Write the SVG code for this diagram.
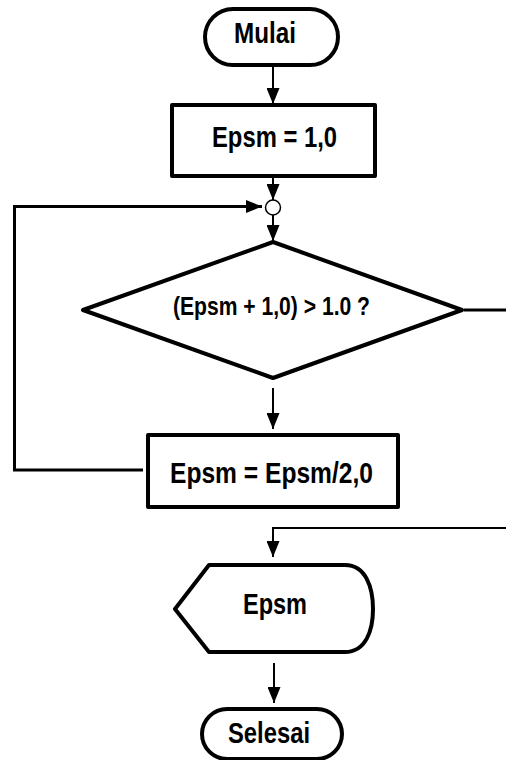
<svg xmlns="http://www.w3.org/2000/svg" width="506" height="760" viewBox="0 0 506 760">
  <defs>
    <marker id="arrow" markerUnits="userSpaceOnUse" markerWidth="16" markerHeight="13" refX="16" refY="6.5" orient="auto">
      <path d="M0,0 L16,6.5 L0,13 Z" fill="#000"/>
    </marker>
  </defs>
  <style>
    .shape { fill: #fff; stroke: #000; stroke-width: 4; stroke-linejoin: round; }
    .label { font-family: "Liberation Sans Narrow", "Liberation Sans", Arial, sans-serif; font-weight: bold; font-size: 29px; fill: #000; }
    .thin { fill: none; stroke: #000; stroke-width: 2; }
    .thick { fill: none; stroke: #000; stroke-width: 3; }
  </style>
  <rect width="506" height="760" fill="#fff"/>

  <g id="connectors">
    <line class="thin" x1="273" y1="66" x2="273" y2="104" marker-end="url(#arrow)"/>
    <line class="thin" x1="273" y1="177" x2="273" y2="200" marker-end="url(#arrow)"/>
    <line class="thin" x1="273" y1="215" x2="273" y2="241" marker-end="url(#arrow)"/>
    <line class="thin" x1="273" y1="388" x2="273" y2="429" marker-end="url(#arrow)"/>
    <polyline class="thick" points="143,470 14.5,470 14.5,206.5 262,206.5" marker-end="url(#arrow)"/>
    <line class="thick" x1="464" y1="310" x2="506" y2="310"/>
    <polyline class="thin" points="506,528 273,528 273,557" marker-end="url(#arrow)"/>
    <line class="thin" x1="274" y1="663" x2="274" y2="703" marker-end="url(#arrow)"/>
  </g>

  <g id="start">
    <rect class="shape" x="205" y="9" width="133" height="56" rx="28" ry="28"/>
    <text class="label" x="234" y="43" textLength="62" lengthAdjust="spacingAndGlyphs">Mulai</text>
  </g>

  <g id="init">
    <rect class="shape" x="172" y="105" width="203" height="71"/>
    <text class="label" x="212" y="147" textLength="125" lengthAdjust="spacingAndGlyphs">Epsm = 1,0</text>
  </g>

  <g id="join">
    <circle cx="273" cy="207.5" r="7.5" fill="#fff" stroke="#000" stroke-width="1.5"/>
  </g>

  <g id="test">
    <polygon class="shape" points="273,242 462,310 273,378 83,310"/>
    <text class="label" x="173" y="315" style="font-size:25px" textLength="197" lengthAdjust="spacingAndGlyphs">(Epsm + 1,0) &gt; 1.0 ?</text>
  </g>

  <g id="halve">
    <rect class="shape" x="148" y="435" width="250" height="72"/>
    <text class="label" x="170" y="483" textLength="203" lengthAdjust="spacingAndGlyphs">Epsm = Epsm/2,0</text>
  </g>

  <g id="output">
    <path class="shape" d="M175,609 L209,565 L345,565 C366,565 373,588 373,609 C373,630 366,652 345,652 L209,652 Z"/>
    <text class="label" x="243" y="614" textLength="64" lengthAdjust="spacingAndGlyphs">Epsm</text>
  </g>

  <g id="end">
    <rect class="shape" x="202" y="709" width="140" height="50" rx="25" ry="25"/>
    <text class="label" x="228" y="743" textLength="82" lengthAdjust="spacingAndGlyphs">Selesai</text>
  </g>
</svg>
